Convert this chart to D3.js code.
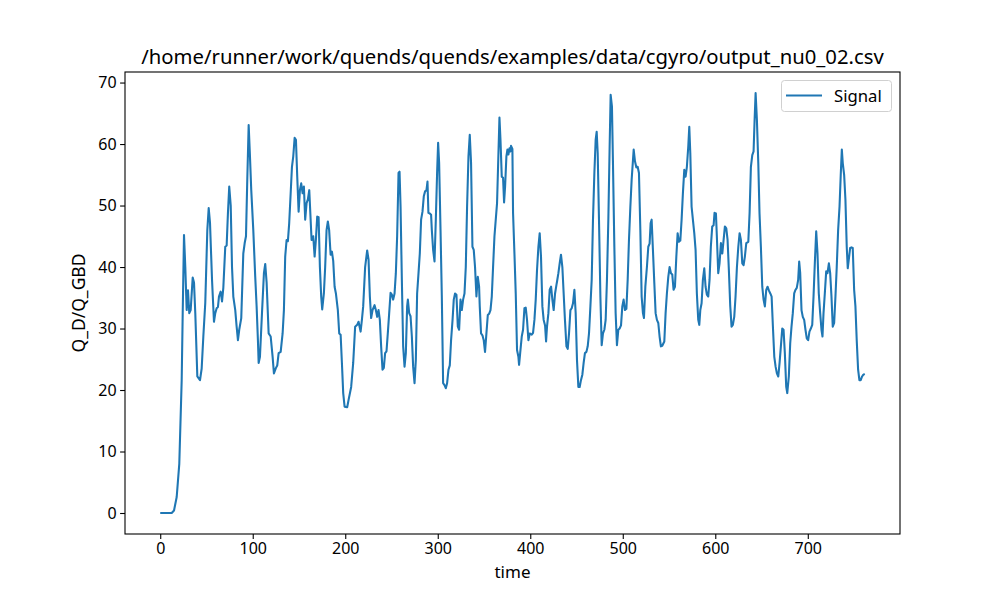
<!DOCTYPE html>
<html>
<head>
<meta charset="utf-8">
<script src="https://cdn.jsdelivr.net/npm/d3@7"></script>
<style>
  body { margin: 0; background: #fff; }
  svg { display: block; }
  text { font-family: "Noto Sans", "DejaVu Sans", sans-serif; fill: #000; }
</style>
</head>
<body>
<svg id="chart" width="1000" height="600"></svg>
<script>
const chartTitle = "/home/runner/work/quends/quends/examples/data/cgyro/output_nu0_02.csv";
const xLabel = "time";
const yLabel = "Q_D/Q_GBD";
const seriesName = "Signal";
const xTicks = [0, 100, 200, 300, 400, 500, 600, 700];
const yTicks = [0, 10, 20, 30, 40, 50, 60, 70];

const time = [
  0, 12.4, 14.9, 17.8, 20.6, 23.2, 24.3, 25.7, 27.1, 28.6, 30.0, 31.4, 32.9, 35.1, 36.5, 37.9, 40.1, 43.0, 44.8, 46.6,
  48.7, 50.9, 52.4, 53.8, 56.0, 58.1, 59.5, 61.0, 62.4, 63.5, 65.3, 66.8, 68.2, 70.3, 71.8, 73.2, 74.6, 76.2, 77.6, 79.0,
  81.1, 82.6, 84.0, 85.4, 87.6, 89.8, 91.3, 92.7, 94.1, 95.6, 97.0, 98.4, 100.6, 102.7, 104.2, 105.6, 106.4, 107.8, 110.0, 112.1,
  113.5, 115.0, 117.2, 119.4, 121.5, 122.9, 125.1, 126.5, 128.0, 130.2, 132.3, 133.7, 135.1, 136.6, 138.0, 139.4, 141.0, 142.4, 143.8, 145.3,
  146.7, 148.1, 149.6, 151.0, 152.4, 153.9, 155.3, 156.7, 158.2, 159.6, 161.1, 163.6, 165.4, 166.9, 168.3, 169.7, 171.2, 172.6, 174.0, 175.1,
  176.9, 178.3, 179.8, 181.2, 182.6, 184.2, 185.6, 187.0, 188.5, 189.9, 192.0, 193.5, 195.0, 196.4, 197.8, 199.3, 202.1, 203.6, 206.4, 208.6,
  210.7, 212.9, 214.4, 216.6, 218.0, 219.4, 221.5, 223.7, 225.2, 226.6, 228.0, 229.5, 231.7, 233.1, 234.5, 236.0, 237.4, 238.8, 240.3, 241.7,
  243.1, 244.6, 246.0, 247.5, 249.0, 250.4, 251.8, 253.3, 254.7, 256.1, 257.6, 258.7, 259.8, 261.2, 262.6, 264.1, 265.5, 266.9, 267.7, 269.1,
  270.6, 272.0, 273.4, 274.9, 276.3, 277.7, 279.2, 280.6, 282.0, 283.5, 284.9, 286.3, 287.8, 288.9, 289.9, 291.4, 292.8, 293.6, 295.0, 296.5,
  297.9, 299.3, 300.4, 301.5, 303.0, 304.4, 305.8, 307.3, 308.7, 310.1, 311.6, 313.0, 314.4, 316.0, 317.3, 318.7, 320.2, 321.7, 323.1, 324.6,
  326.0, 327.4, 328.9, 330.3, 331.7, 333.2, 334.6, 336.0, 337.5, 338.9, 340.3, 341.8, 343.3, 344.7, 345.4, 346.8, 348.3, 349.7, 351.1, 352.6,
  354.1, 355.5, 357.0, 358.4, 359.8, 361.3, 362.7, 364.1, 365.6, 366.7, 367.8, 369.2, 370.6, 371.7, 372.8, 374.2, 375.3, 376.4, 377.5, 378.6,
  379.2, 380.7, 381.4, 382.9, 384.3, 385.7, 387.2, 387.9, 389.4, 390.8, 392.2, 393.7, 395.1, 396.5, 398.0, 399.4, 401.6, 403.0, 404.5, 405.9,
  407.3, 408.8, 410.2, 411.6, 413.1, 414.5, 416.0, 417.1, 418.1, 419.6, 421.0, 422.5, 423.9, 425.3, 426.8, 428.3, 428.9, 430.4, 431.8, 433.2,
  434.7, 436.1, 437.5, 439.1, 440.5, 441.9, 443.4, 444.8, 446.2, 447.7, 449.1, 450.5, 452.0, 453.4, 454.8, 456.3, 457.7, 459.1, 460.7, 462.1,
  463.5, 465.0, 466.4, 467.8, 469.3, 470.7, 471.8, 472.9, 474.3, 475.8, 477.2, 478.6, 480.1, 481.5, 482.9, 484.4, 485.8, 486.9, 488.3, 489.4,
  490.9, 492.3, 493.7, 495.2, 496.6, 498.1, 499.5, 500.9, 502.4, 503.9, 505.3, 506.7, 508.2, 509.6, 511.8, 513.2, 514.7, 516.1, 517.5, 519.0,
  520.4, 521.8, 522.9, 524.4, 526.1, 527.6, 529.0, 530.1, 531.2, 532.6, 534.1, 535.5, 536.9, 538.4, 539.8, 541.2, 542.7, 544.9, 546.3, 547.7,
  549.2, 550.6, 552.1, 553.5, 554.9, 556.4, 557.9, 559.3, 560.7, 562.2, 563.6, 565.0, 566.5, 567.9, 569.3, 570.8, 571.9, 573.0, 574.4, 575.8,
  577.3, 578.7, 580.1, 581.6, 582.7, 583.8, 585.2, 586.6, 588.1, 589.5, 590.9, 592.4, 593.8, 595.2, 596.7, 598.2, 599.2, 600.7, 601.7, 603.2,
  604.6, 606.1, 607.6, 609.0, 610.4, 611.9, 613.3, 614.7, 616.2, 617.6, 619.0, 620.5, 621.9, 623.4, 624.9, 626.3, 627.7, 629.2, 630.6, 632.0,
  633.5, 635.7, 637.1, 638.5, 640.0, 641.4, 642.5, 643.6, 645.0, 646.5, 647.8, 649.3, 650.8, 652.2, 653.6, 655.1, 656.5, 657.9, 659.5, 660.9,
  662.3, 663.8, 665.2, 666.6, 668.1, 669.5, 670.9, 672.4, 673.8, 675.2, 676.7, 677.8, 679.5, 681.0, 682.4, 683.8, 685.3, 686.7, 688.1, 689.6,
  690.7, 691.8, 693.2, 694.6, 696.1, 697.5, 698.9, 700.4, 701.8, 703.3, 704.8, 706.2, 707.6, 709.1, 710.5, 711.9, 713.4, 714.8, 715.9, 717.0,
  718.4, 719.9, 721.3, 722.8, 724.2, 725.6, 727.0, 728.5, 729.9, 731.3, 732.8, 734.3, 735.7, 736.8, 737.8, 739.3, 740.7, 742.1, 743.2, 744.3,
  745.8, 747.2, 748.6, 750.1, 751.5, 752.9, 754.4, 755.8, 757.2, 758.7, 760.1, 761.6
];

const signal = [
  0, 0, 0.4, 2.6, 8, 21.6, 32.5, 45.2, 40, 33, 36.2, 32.5, 33, 38.3, 37.5, 32.5, 22.2, 21.6, 23.5, 28.7,
  34.2, 46, 49.6, 47.2, 37.9, 31.1, 32.5, 33.3, 33.5, 35.2, 36, 34.4, 36.6, 43.3, 43.5, 48.8, 53.1, 50, 40, 35.2,
  33, 30.3, 28.1, 29.8, 31.7, 42.2, 43.9, 45, 54.2, 63.1, 58, 52.5, 46, 38.4, 33.6, 28.1, 24.4, 25.4, 32.5, 39,
  40.5, 37.5, 29.2, 28.7, 25.4, 22.7, 23.6, 24, 26, 26.2, 29.2, 33, 41.7, 44.4, 44.2, 47.1, 52, 56.3, 58, 61,
  60.7, 54.7, 49, 52.5, 53.6, 52, 53.1, 47.7, 50.4, 51, 52.5, 44.4, 45, 41.7, 44.5, 48.2, 48.1, 40, 35.2, 33.1,
  35.7, 40, 46, 47.4, 46, 42, 42.5, 41, 36.8, 35.7, 33, 29.2, 29, 24.4, 19.5, 17.3, 17.2, 18.4, 20.5, 24.4,
  30.3, 30.6, 31.1, 29.5, 31.4, 33.6, 40, 42.7, 41.2, 35.2, 31.7, 33, 33.8, 33, 31.9, 33, 31.4, 27.1, 23.3, 23.6,
  26, 26.3, 29.2, 32.5, 35.8, 35.5, 34.7, 35.7, 39, 45, 55.3, 55.5, 49.8, 37.9, 27.1, 23.8, 26, 33.6, 34.7, 32.5,
  32, 28.7, 23.8, 21.1, 24.9, 35.7, 39, 42.2, 47.7, 49, 51.5, 52.3, 52.5, 53.9, 48.8, 48.7, 48.5, 46, 42.8, 40.9,
  47.7, 55.3, 60.2, 56.9, 46, 35.2, 21.1, 20.8, 20.3, 21.1, 23.3, 24, 28.1, 31.4, 34.7, 35.7, 35.5, 30.3, 29.8, 34.7,
  33, 34.7, 35.7, 40, 49.8, 58, 61.5, 56.9, 43.3, 42.8, 40, 35.2, 38.4, 36.8, 33.6, 29.2, 28.9, 28.1, 26.2, 29.2,
  32.2, 32.4, 33, 35.2, 40, 45, 47.7, 50.4, 58.5, 64.3, 60.7, 54.7, 54.5, 50.5, 53.1, 58, 59.1, 58.3, 59.3, 58.8,
  59.7, 59.2, 48.8, 42.2, 35.7, 26.5, 25.4, 24.1, 26.5, 28.7, 29.8, 33.3, 33.4, 31.4, 28.1, 29.2, 29, 29.3, 31.4, 34.7,
  39.5, 43.3, 45.5, 41.7, 33.6, 31.4, 30.5, 27.9, 30.3, 32.5, 36.3, 36.8, 34.7, 33, 35.7, 37.1, 37.6, 39, 40.6, 42,
  40, 35.7, 31.4, 27.1, 26.7, 29.2, 33, 33.3, 34.1, 36.3, 32.5, 24.9, 20.5, 20.5, 21.6, 22.5, 24.4, 26, 26.2, 27.1,
  29.2, 33.6, 37.9, 47.7, 55.3, 60.7, 62, 58.5, 47.7, 35.2, 27.3, 29.2, 29.8, 31.4, 37.9, 47.7, 59.6, 68, 66.1, 56.9,
  43.3, 32.5, 27.3, 29.8, 30, 30.5, 33.6, 34.7, 33, 33.2, 37.9, 44.4, 49.8, 54.2, 59.1, 57.2, 56.2, 56.3, 55.3, 46,
  35.2, 32.5, 31.7, 36.8, 40, 43.3, 43.8, 47.1, 47.7, 42.8, 37.4, 32.5, 31.4, 30.9, 28.7, 27.1, 27.2, 27.9, 32.5, 35.7,
  38.4, 40, 39, 38.8, 36.3, 36.8, 41.7, 45.5, 44.1, 44.3, 47.7, 52, 55.8, 54.7, 56.3, 59.6, 62.8, 58.5, 49.8, 47.7,
  45.5, 42.8, 35.7, 31.4, 30.6, 33, 34.1, 37.9, 39.8, 36.8, 35.5, 35.2, 37.9, 43.3, 46.6, 46.8, 48.8, 48.7, 45, 39,
  40.6, 43.9, 42.2, 44.4, 46.6, 46.3, 44.4, 39.5, 33.6, 30.3, 30.6, 31.9, 35.2, 40, 43.3, 45.5, 44.4, 40.6, 40.3, 41.7,
  43.9, 44.1, 48.8, 56.3, 58.2, 58.8, 63.9, 68.3, 63.9, 56.9, 48.8, 43.3, 36.8, 34.7, 33.6, 36.3, 36.8, 36.2, 35.7, 35.2,
  30.3, 25.4, 23.8, 22.7, 22.2, 24.4, 27.1, 30, 29.8, 26, 20.5, 19.5, 22.2, 27.6, 30.3, 32.5, 35.7, 36.3, 36.6, 37.9,
  40.9, 39, 33, 31.9, 31.4, 29.8, 28.4, 28.1, 29.5, 30, 30.6, 35.2, 40.6, 45.8, 42.2, 35.7, 32.5, 29.8, 28.7, 32.5,
  35.7, 39.3, 39, 40.6, 39, 35.2, 30.3, 30.9, 35.2, 40, 46, 49.8, 55.3, 59.1, 56.9, 55, 50.9, 43.3, 39.8, 41.2,
  43.1, 43.2, 43.1, 36.3, 33.6, 28.1, 23.3, 21.6, 21.6, 22.2, 22.5, 22.6
];

const W = 1000, H = 600;
const margin = { left: 125, right: 100, top: 72, bottom: 66 };
const x0 = margin.left, x1 = W - margin.right, y0 = margin.top, y1 = H - margin.bottom;

const data = time.map((t, i) => ({ t, v: signal[i] }));
const [tMin, tMax] = d3.extent(time);
const [vMin, vMax] = d3.extent(signal);
const tPad = (tMax - tMin) * 0.05, vPad = (vMax - vMin) * 0.05;

const x = d3.scaleLinear().domain([tMin - tPad, tMax + tPad]).range([x0, x1]);
const y = d3.scaleLinear().domain([vMin - vPad, vMax + vPad]).range([y1, y0]);

const svg = d3.select("#chart");
svg.append("rect").attr("width", W).attr("height", H).attr("fill", "#fff");

// line
const line = d3.line().x(d => x(d.t)).y(d => y(d.v));
svg.append("path")
  .datum(data)
  .attr("d", line)
  .attr("fill", "none")
  .attr("stroke", "#1f77b4")
  .attr("stroke-width", 2.08)
  .attr("stroke-linejoin", "round")
  .attr("stroke-linecap", "butt");

// axes
const xAxis = d3.axisBottom(x).tickValues(xTicks).tickSize(4.9).tickPadding(3.5).tickFormat(d3.format("d"));
const yAxis = d3.axisLeft(y).tickValues(yTicks).tickSize(4.9).tickPadding(3.5).tickFormat(d3.format("d"));

const gx = svg.append("g").attr("transform", `translate(0,${y1})`).call(xAxis);
const gy = svg.append("g").attr("transform", `translate(${x0},0)`).call(yAxis);
[gx, gy].forEach(g => {
  g.select(".domain").remove();
  g.selectAll(".tick line").attr("stroke", "#000").attr("stroke-width", 1.1);
  g.selectAll(".tick text").attr("fill", "#000").style("font-size", "16px").style("font-family", '"Noto Sans", "DejaVu Sans", sans-serif');
});

// frame
svg.append("rect")
  .attr("x", x0).attr("y", y0)
  .attr("width", x1 - x0).attr("height", y1 - y0)
  .attr("fill", "none").attr("stroke", "#000").attr("stroke-width", 1.1);

// title
svg.append("text")
  .attr("x", (x0 + x1) / 2).attr("y", y0 - 8)
  .attr("text-anchor", "middle")
  .style("font-size", "20.3px")
  .text(chartTitle);

// axis labels
svg.append("text")
  .attr("x", (x0 + x1) / 2).attr("y", 578)
  .attr("text-anchor", "middle")
  .style("font-size", "17px")
  .text(xLabel);

svg.append("text")
  .attr("transform", `translate(85,${(y0 + y1) / 2}) rotate(-90)`)
  .attr("text-anchor", "middle")
  .style("font-size", "17.5px")
  .text(yLabel);

// legend
const lg = svg.append("g");
lg.append("rect")
  .attr("x", 781.5).attr("y", 80.5).attr("width", 110).attr("height", 31)
  .attr("rx", 3).attr("ry", 3)
  .attr("fill", "#fff").attr("fill-opacity", 0.8)
  .attr("stroke", "#d0d0d0").attr("stroke-width", 1);
lg.append("line")
  .attr("x1", 786).attr("x2", 822).attr("y1", 95.5).attr("y2", 95.5)
  .attr("stroke", "#1f77b4").attr("stroke-width", 2.08);
lg.append("text")
  .attr("x", 834).attr("y", 101.5)
  .style("font-size", "16.7px")
  .text(seriesName);
</script>
</body>
</html>
